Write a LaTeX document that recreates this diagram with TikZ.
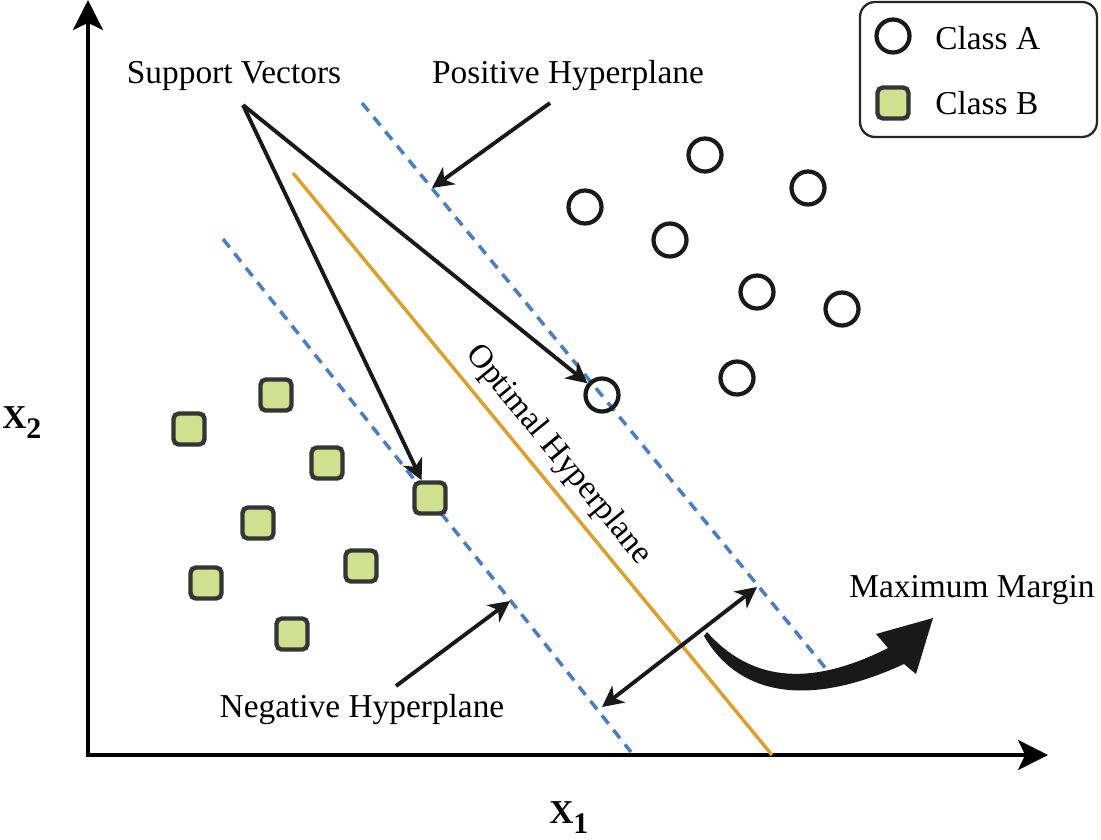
\documentclass[tikz,border=0pt]{standalone}
\usepackage{fontspec}
\setmainfont{Liberation Serif}
\usetikzlibrary{arrows.meta}
\definecolor{sqfill}{HTML}{CFE08E}
\definecolor{sqdraw}{HTML}{353535}
\definecolor{hypblue}{HTML}{4A7EC2}
\definecolor{optgold}{HTML}{DBA12E}

\begin{document}
\begin{tikzpicture}[x=0.02cm, y=-0.02cm,
    font=\fontsize{19}{22}\selectfont,
    >={Stealth[length=12pt,width=12pt,inset=3.5pt]},
    classa/.style={shape=circle, draw=black!90, line width=2.4pt, minimum size=0.66cm, inner sep=0pt},
    classb/.style={shape=rectangle, rounded corners=3pt, draw=sqdraw, fill=sqfill, line width=2.5pt, minimum size=0.62cm, inner sep=0pt},
    axis/.style={line width=2.5pt, {Stealth[length=17pt,width=17pt,inset=4pt]}-{Stealth[length=17pt,width=17pt,inset=4pt]}},
    pointer/.style={draw=black!90, line width=2.2pt},
    hyper/.style={draw=hypblue, line width=2pt, dash pattern=on 6pt off 4.5pt},
    lbl/.style={inner sep=0pt, anchor=base}]
                \useasboundingbox (0,0) rectangle (1101,839);

                % axes
                \coordinate (ytop) at (88,0);
                \coordinate (O) at (88,755);
                \coordinate (xend) at (1048,755);
                \draw[axis] (ytop) -- (O) -- (xend);
                \node[lbl, anchor=base west] (X2) at (2,428) {\textbf{X\raisebox{-0.3em}{\fontsize{17}{17}\selectfont 2}}};
                \node[lbl, anchor=base west] (X1) at (549,823) {\textbf{X\raisebox{-0.3em}{\fontsize{17}{17}\selectfont 1}}};

                % hyperplanes
                \coordinate (pos1) at (362,103);
                \coordinate (pos2) at (832,676);
                \coordinate (neg1) at (223,239);
                \coordinate (neg2) at (631,752);
                \coordinate (opt1) at (293,173);
                \coordinate (opt2) at (772,755);
                \draw[hyper] (pos1) -- (pos2);
                \draw[hyper] (neg1) -- (neg2);
                \draw[draw=optgold, line width=2pt] (opt1) -- (opt2);
                \node[rotate=-50.6] (OH) at (558,455) {Optimal Hyperplane};

                % class A
                \node[classa] (a1) at (705,155) {};
                \node[classa] (a2) at (808,188) {};
                \node[classa] (a3) at (585,207) {};
                \node[classa] (a4) at (670,240) {};
                \node[classa] (a5) at (757,292) {};
                \node[classa] (a6) at (842,309) {};
                \node[classa] (a7) at (737,378) {};
                \node[classa] (a8) at (602,395) {};

                % class B
                \node[classb] (b1) at (276,395) {};
                \node[classb] (b2) at (189,429) {};
                \node[classb] (b3) at (327,463) {};
                \node[classb] (b4) at (430,498) {};
                \node[classb] (b5) at (258,523) {};
                \node[classb] (b6) at (361,566) {};
                \node[classb] (b7) at (206,583) {};
                \node[classb] (b8) at (292,634) {};

                % labels and pointers
                \node[lbl] (SV) at (234,83) {Support Vectors};
                \node[lbl] (PH) at (568,83) {Positive Hyperplane};
                \node[lbl] (NH) at (362,717) {Negative Hyperplane};
                \node[lbl] (MM) at (972,597) {Maximum Margin};
                \coordinate (svfoot) at (243,105);
                \coordinate (phfoot) at (550,103);
                \coordinate (phpt) at (432,188);
                \coordinate (nhfoot) at (396,686);
                \coordinate (nhpt) at (510,601);
                \coordinate (mm1) at (602,707);
                \coordinate (mm2) at (757,587);
                \draw[pointer, ->] (svfoot) -- (a8);
                \draw[pointer, ->] (svfoot) -- (b4);
                \draw[pointer, ->] (phfoot) -- (phpt);
                \draw[pointer, ->] (nhfoot) -- (nhpt);
                \draw[pointer, <->] (mm1) -- (mm2);

                % curved margin arrow
                \fill[black!90] (704,636) .. controls (735,690) and (800,712) .. (904,664)
                    -- (916,674) -- (933,618) -- (876,634) -- (888,648)
                    .. controls (805,690) and (748,678) .. (707,632) -- cycle;

                % legend
                \node[draw=black!85, line width=1.3pt, rounded corners=0.3cm, minimum width=4.74cm, minimum height=2.7cm] (key) at (978.5,69.5) {};
                \node[classa] (keya) at (893,36) {};
                \node[classb] (keyb) at (893,103) {};
                \node[lbl, anchor=west] (KA) at (935,38) {Class A};
                \node[lbl, anchor=west] (KB) at (935,103) {Class B};
            \end{tikzpicture}
\end{document}
